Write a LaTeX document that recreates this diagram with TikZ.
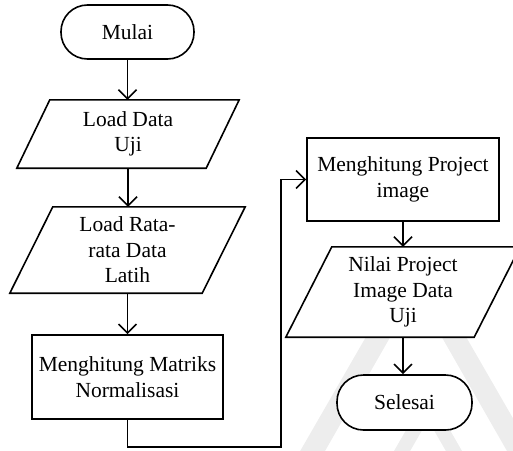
\documentclass[tikz,border=0pt]{standalone}
\usepackage{fontspec}
\setmainfont{Liberation Serif}
\usetikzlibrary{arrows.meta,backgrounds}
\pgfdeclarelayer{mark}
\pgfsetlayers{mark,background,main}

\tikzset{
  every node/.style={font=\fontsize{21.5}{25.5}\selectfont, align=center, inner sep=0pt},
  line/.style={line width=1.6pt, black},
  arr/.style={line, -{Straight Barb[length=9pt,width=18pt,line width=1.6pt]}},
  terminal/.style={line, draw, fill=white, rectangle, rounded corners=26.5pt},
  process/.style={line, draw, fill=white, rectangle},
  io/.style={rectangle, draw=none},
  ioshape/.style={line, fill=white, line join=miter},
  markfill/.style={fill=black!7, even odd rule}
}

\begin{document}
\begin{tikzpicture}[x=1pt, y=-1pt]
\useasboundingbox (0,0) rectangle (513,450);

% faint emblem in the lower right
\begin{pgfonlayer}{mark}
  \clip (0,0) rectangle (513,450);
  \fill[markfill] (416,250) -- (280,486) -- (552,486) -- cycle
                  (416,292) -- (305,486) -- (527,486) -- cycle;
  \fill[markfill] (428,392) -- (360,510) -- (496,510) -- cycle
                  (428,420) -- (376,510) -- (480,510) -- cycle;
\end{pgfonlayer}

% left column
\node[terminal, minimum width=133pt, minimum height=54pt] (start) at (127.5,32) {Mulai};
\node[io, minimum width=222pt, minimum height=68pt] (load1) at (128,134) {Load Data\\Uji};
\node[io, minimum width=235pt, minimum height=86pt] (load2) at (127.5,250) {Load Rata-\\rata Data\\Latih};
\node[process, minimum width=191pt, minimum height=84pt] (norm) at (127.5,377) {Menghitung Matriks\\Normalisasi};

% right column
\node[process, minimum width=192pt, minimum height=83pt] (proj) at (403,179.5) {Menghitung Project\\image};
\node[io, minimum width=234pt, minimum height=90pt] (value) at (403,292) {Nilai Project\\Image Data\\Uji};
\node[terminal, minimum width=135pt, minimum height=55pt] (stop) at (404.5,402.5) {Selesai};

% parallelogram outlines behind the input/output texts
\begin{pgfonlayer}{background}
  \draw[ioshape] (load1.south west) -- ([xshift=33pt]load1.north west)
                 -- (load1.north east) -- ([xshift=-33pt]load1.south east) -- cycle;
  \draw[ioshape] (load2.south west) -- ([xshift=43pt]load2.north west)
                 -- (load2.north east) -- ([xshift=-43pt]load2.south east) -- cycle;
  \draw[ioshape] (value.south west) -- ([xshift=46pt]value.north west)
                 -- (value.north east) -- ([xshift=-46pt]value.south east) -- cycle;
\end{pgfonlayer}

% connectors
\coordinate (bend) at (281,447);
\draw[arr] (start.south) -- (start.south |- load1.north);
\draw[arr] (load1.south) -- (load1.south |- load2.north);
\draw[arr] (load2.south) -- (load2.south |- norm.north);
\draw[arr] (norm.south) |- (bend) |- (proj.west);
\draw[arr] (proj.south) -- (proj.south |- value.north);
\draw[arr] (value.south) -- (value.south |- stop.north);
\end{tikzpicture}
\end{document}
